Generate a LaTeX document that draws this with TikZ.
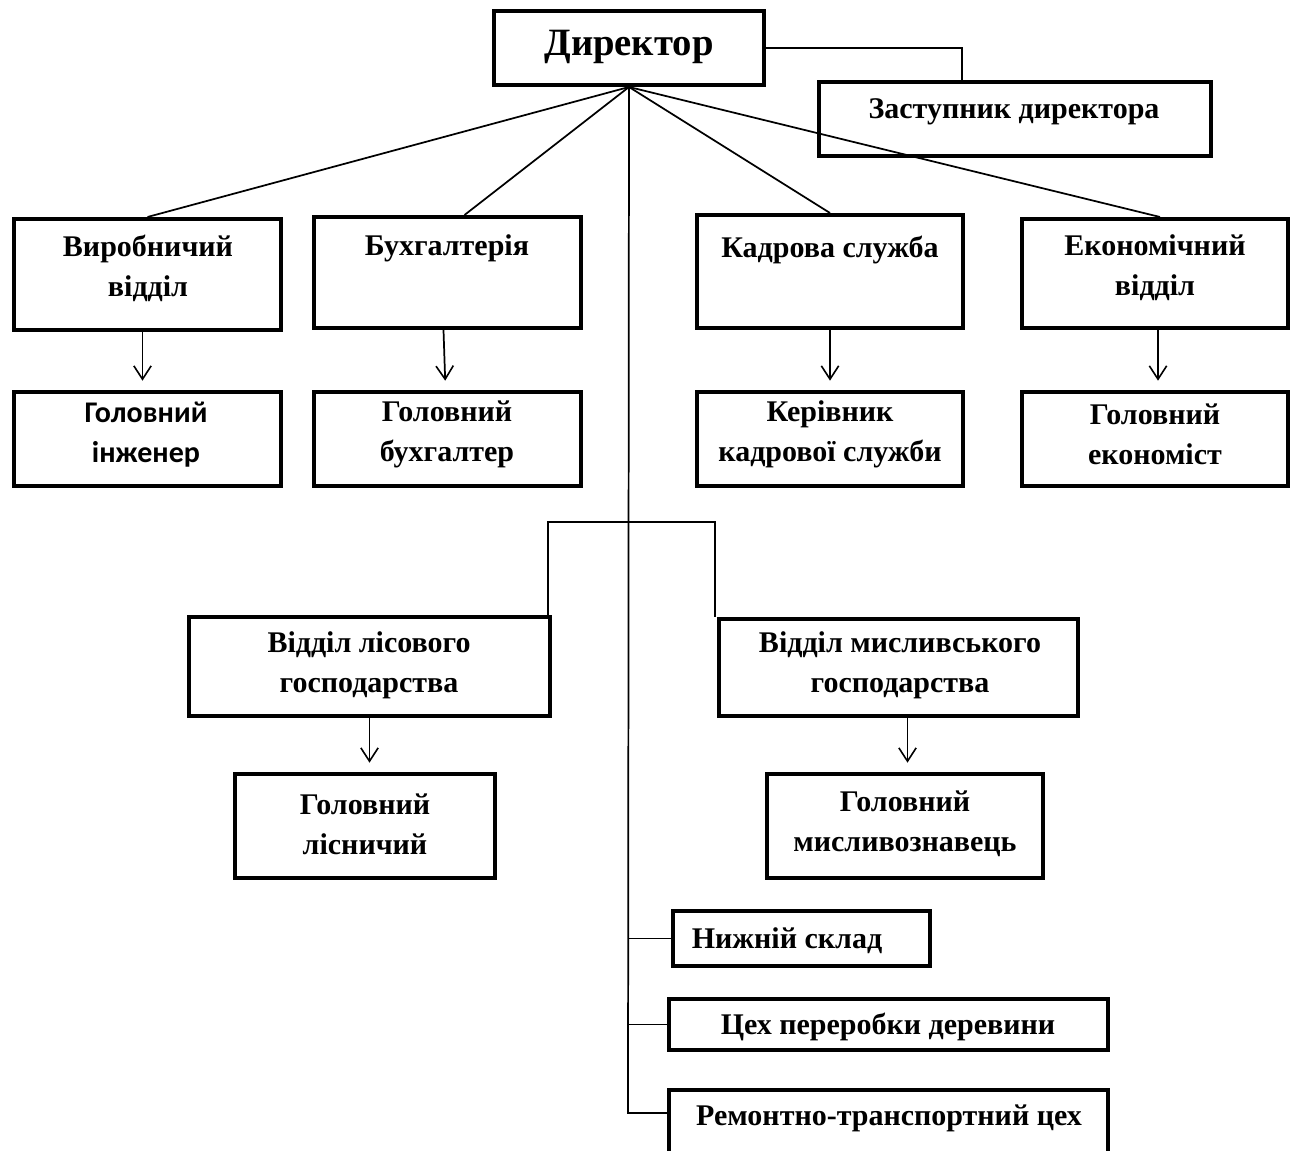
\documentclass[tikz,border=0pt]{standalone}
\usepackage{fontspec}
\setmainfont{Liberation Serif}
\newfontfamily\calfont{Carlito}
\usetikzlibrary{arrows.meta,fit,calc}
\begin{document}
\begin{tikzpicture}[x=0.75pt,y=-0.75pt,
  box/.style={draw,line width=3pt,inner sep=0pt,rectangle},
  thinbox/.style={box,line width=2.6pt},
  txt/.style={font=\bfseries\fontsize{22.5}{30}\selectfont,align=center,inner sep=0pt},
  big/.style={font=\bfseries\fontsize{29}{34}\selectfont,inner sep=0pt},
  link/.style={line width=1.3pt},
  arr/.style={link,-{Straight Barb[length=10pt,width=13pt,line width=1.2pt]},shorten >=7pt}]
\useasboundingbox (0,0) rectangle (1295,1151);
\fill[white] (0,0) rectangle (1295,1151);
% boxes
\node[box,fit={(494,11)(764,85)}] (dir) {};
\node[box,fit={(819,82)(1211,156)}] (zas) {};
\node[box,fit={(14,219)(281,330)}] (b1) {};
\node[box,fit={(314,217)(581,328)}] (b2) {};
\node[box,fit={(697,215)(963,328)}] (b3) {};
\node[box,fit={(1022,219)(1288,328)}] (b4) {};
\node[box,fit={(14,392)(281,486)}] (c1) {};
\node[box,fit={(314,392)(581,486)}] (c2) {};
\node[box,fit={(697,392)(963,486)}] (c3) {};
\node[box,fit={(1022,392)(1288,486)}] (c4) {};
\node[box,fit={(189,617)(550,716)}] (l1) {};
\node[box,fit={(719,619)(1078,716)}] (l2) {};
\node[box,fit={(235,774)(495,878)}] (m1) {};
\node[box,fit={(767,774)(1043,878)}] (m2) {};
\node[thinbox,fit={(673,911)(930,966)}] (n1) {};
\node[box,fit={(669,999)(1108,1050)}] (n2) {};
\node[box,fit={(669,1090)(1108,1170)}] (n3) {};
% texts
\node[big] (tdir) at (629,47) {Директор};
\node[txt] (tzas) at (1014,112) {Заступник директора};
\node[txt] (tb1) at (148,268) {Виробничий\\відділ};
\node[txt] (tb2) at (447,248) {Бухгалтерія};
\node[txt] (tb3) at (830,250) {Кадрова служба};
\node[txt] (tb4) at (1155,268) {Економічний\\відділ};
\node[txt,font=\calfont\bfseries\fontsize{22.5}{30}\selectfont] (tc1) at (146,435) {Головний\\інженер};
\node[txt] (tc2) at (447,434) {Головний\\бухгалтер};
\node[txt] (tc3) at (830,434) {Керівник\\кадрової служби};
\node[txt] (tc4) at (1155,434) {Головний\\економіст};
\node[txt] (tl1) at (369,665) {Відділ лісового\\господарства};
\node[txt] (tl2) at (900,665) {Відділ мисливського\\господарства};
\node[txt] (tm1) at (365,824) {Головний\\лісничий};
\node[txt] (tm2) at (905,824) {Головний\\мисливознавець};
\node[txt] (tn1) at (787,941) {Нижній склад};
\node[txt] (tn2) at (888,1027) {Цех переробки деревини};
\node[txt] (tn3) at (889,1118) {Ремонтно-транспортний цех};
% connectors
\coordinate (zc) at (962,82);
\draw[link] (dir.east) -| (zc);
\draw[link] (dir.south) -- (b1.north);
\draw[link] (dir.south) -- ($(b2.north)+(17,0)$);
\draw[link] (dir.south) -- (b3.north);
\draw[link] (dir.south) -- ($(b4.north)+(5,0)$);
\coordinate (t) at (628,1113);
\draw[link] (dir.south) -- (t) -- (t -| n3.west);
\draw[link] (dir.south |- n1.west) -- (n1.west);
\draw[link] (dir.south |- n2.west) -- (n2.west);
\coordinate (j1) at (548,522);
\coordinate (j2) at (715,522);
\draw[link] (j1 |- l1.north) -- (j1) -- (j2) -- (j2 |- l2.north);
\draw[arr] ($(b1.south)+(-5,0)$) -- ($(c1.north)+(-5,0)$);
\draw[arr] ($(b2.south)+(-4,0)$) -- ($(c2.north)+(-2,0)$);
\draw[arr] (b3.south) -- (c3.north);
\draw[arr] ($(b4.south)+(3,0)$) -- ($(c4.north)+(3,0)$);
\draw[arr] (l1.south) -- (l1.south |- m1.north);
\draw[arr] ($(l2.south)+(9,0)$) -- ($(l2.south |- m2.north)+(9,0)$);
\end{tikzpicture}
\end{document}
